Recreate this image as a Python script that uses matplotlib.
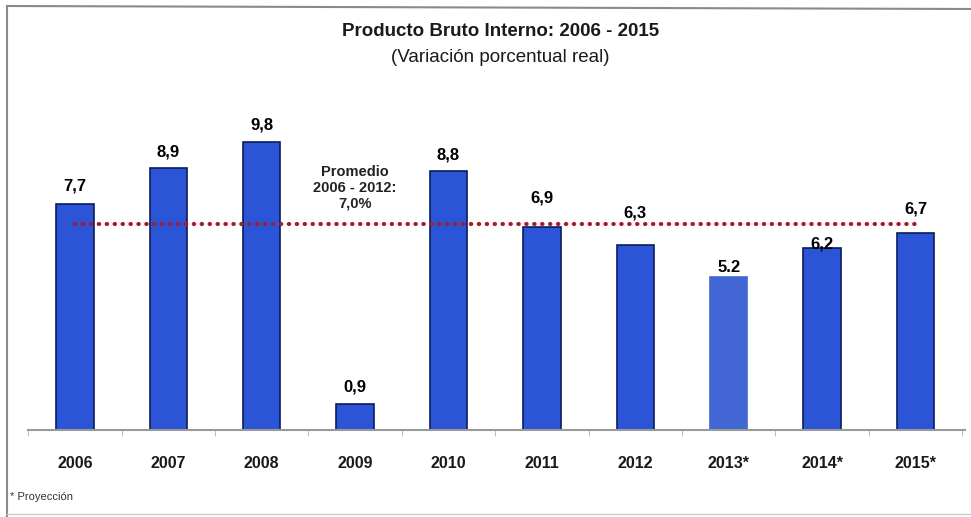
import matplotlib
matplotlib.use("Agg")
import matplotlib.pyplot as plt
from matplotlib.lines import Line2D
import numpy as np

# datos
years = ["2006", "2007", "2008", "2009", "2010", "2011", "2012", "2013*", "2014*", "2015*"]
pbi = [7.7, 8.9, 9.8, 0.9, 8.8, 6.9, 6.3, 5.2, 6.2, 6.7]
labels = ["7,7", "8,9", "9,8", "0,9", "8,8", "6,9", "6,3", "5.2", "6,2", "6,7"]
promedio = 7.0

plt.rcParams['font.family'] = ['Liberation Sans', 'DejaVu Sans']

fig = plt.figure(figsize=(9.71, 5.17), dpi=100)
ax = fig.add_axes([0.0288, 0.1683, 0.965, 0.580])

x = np.arange(len(years))
face = ['#2b55d6'] * len(years)
edge = ['#0b1c5e'] * len(years)
face[7] = '#4266d4'
edge[7] = '#4266d4'
ax.bar(x, pbi, width=0.40, color=face, edgecolor=edge, linewidth=1.2, zorder=2)

# linea de promedio
ax.plot([x[0], x[-1]], [promedio, promedio], color='#a31d2c', linewidth=3,
        linestyle=(0, (0.1, 1.8)), dash_capstyle='round', zorder=3)
ax.text(3.0, 8.23, "Promedio\n2006 - 2012:\n7,0%", ha='center', va='center',
        fontsize=10.5, fontweight='bold', color='#222222', linespacing=1.15)

# etiquetas de valores (desplazamiento en puntos, como en el original)
offsets = [13, 12, 12, 12, 12, 21, 23, 7, 3, 17]
for xi, v, lab, off in zip(x, pbi, labels, offsets):
    ax.annotate(lab, (xi, v), xytext=(0, off), textcoords='offset points',
                ha='center', va='center', fontsize=12, fontweight='bold',
                color='black', zorder=4)

ax.set_xlim(-0.503, 9.53)
ax.set_ylim(0, 10.2)
ax.set_xticks(x)
ax.set_xticklabels(years, fontsize=11.5, fontweight='bold', color='#1a1a1a')
ax.set_xticks(np.arange(-0.5, 9.6, 1.0), minor=True)
ax.tick_params(axis='x', which='major', length=0, pad=19)
ax.tick_params(axis='x', which='minor', length=4, color='#b0b0b0', direction='out')
ax.set_yticks([])
for s in ['top', 'right', 'left']:
    ax.spines[s].set_visible(False)
ax.spines['bottom'].set_color('#9a9a9a')
ax.spines['bottom'].set_linewidth(1.5)

# titulos
fig.text(0.515, 0.940, "Producto Bruto Interno: 2006 - 2015", ha='center', va='center',
         fontsize=13.5, fontweight='bold', color='#1a1a1a')
fig.text(0.515, 0.888, "(Variación porcentual real)", ha='center', va='center',
         fontsize=13.5, color='#1a1a1a')
fig.text(0.010, 0.038, "* Proyección", ha='left', va='center', fontsize=8,
         color='#333333')

# marco
W, H = 971, 517
frame = dict(color='#8a8a8a', linewidth=1.5, transform=fig.transFigure)
fig.add_artist(Line2D([7 / W, 7 / W], [1 - 6 / H, 0], **frame))
fig.add_artist(Line2D([7 / W, 1], [1 - 6 / H, 1 - 9 / H], **frame))
fig.add_artist(Line2D([7 / W, 1], [1 - 514 / H, 1 - 514 / H], color='#cccccc',
                      linewidth=1, transform=fig.transFigure))

fig.savefig("out.png", dpi=100)
